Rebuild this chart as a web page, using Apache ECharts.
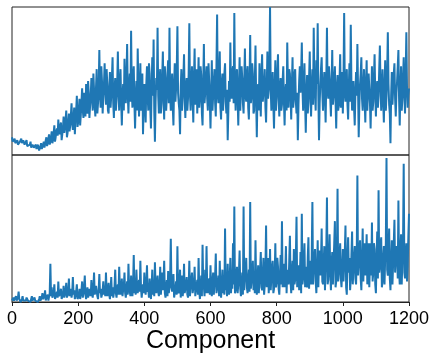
<!DOCTYPE html>
<html>
<head>
<meta charset="utf-8">
<script src="https://cdn.jsdelivr.net/npm/echarts@6/dist/echarts.min.js"></script>
<style>
  html, body { margin: 0; padding: 0; background: #fff; }
  #chart { width: 436px; height: 364px; }
</style>
</head>
<body>
<div id="chart"></div>
<script>
// component index sampled every 2 units, 0..1200
const xStep = 2
const xTicks = [0, 200, 400, 600, 800, 1000, 1200]

// upper panel values (0..100 of panel height)
const topValues = [
  12, 9, 8, 10, 11, 8, 7, 9, 10, 7, 6, 8, 9, 10, 11, 8, 7, 10, 9, 7,
  6, 8, 10, 6, 7, 5, 5, 7, 9, 5, 6, 7, 8, 5, 4, 6, 7, 4, 5, 7,
  6, 3, 4, 6, 8, 4, 5, 7, 9, 5, 7, 10, 12, 6, 8, 11, 14, 7, 9, 12,
  16, 8, 10, 15, 20, 9, 12, 16, 18, 13, 24, 17, 14, 19, 22, 10, 11, 18, 26, 15,
  18, 24, 30, 12, 15, 22, 28, 16, 20, 27, 35, 21, 17, 25, 32, 14, 24, 30, 40, 19,
  22, 31, 38, 20, 27, 36, 45, 30, 25, 42, 36, 26, 48, 34, 28, 50, 42, 25, 33, 40,
  52, 38, 30, 55, 44, 33, 26, 46, 58, 28, 35, 45, 71, 40, 32, 60, 50, 28, 40, 48,
  62, 42, 34, 58, 48, 30, 28, 45, 56, 32, 40, 52, 66, 35, 25, 44, 52, 30, 38, 48,
  70, 42, 30, 50, 58, 36, 20, 40, 48, 30, 65, 44, 35, 52, 75, 40, 28, 46, 55, 36,
  84, 45, 32, 52, 60, 35, 18, 38, 50, 30, 72, 46, 26, 42, 62, 30, 40, 55, 14, 34,
  48, 35, 22, 48, 60, 40, 30, 62, 55, 32, 18, 45, 66, 40, 78, 30, 9, 36, 52, 44,
  86, 40, 28, 50, 58, 28, 35, 52, 70, 38, 24, 60, 50, 30, 40, 55, 64, 35, 86, 42,
  30, 44, 55, 32, 20, 48, 62, 36, 45, 58, 87, 42, 35, 30, 14, 46, 58, 30, 40, 52,
  68, 38, 25, 46, 52, 30, 38, 55, 89, 40, 30, 48, 60, 38, 22, 52, 72, 34, 45, 58,
  28, 45, 66, 32, 38, 60, 54, 28, 20, 48, 75, 35, 42, 52, 60, 38, 30, 62, 50, 36,
  18, 42, 64, 30, 40, 50, 58, 35, 26, 60, 95, 40, 35, 54, 70, 32, 24, 48, 55, 30,
  42, 55, 62, 36, 28, 44, 10, 30, 50, 36, 76, 42, 38, 56, 60, 35, 96, 45, 30, 52,
  58, 38, 20, 45, 66, 30, 44, 60, 52, 35, 28, 50, 72, 40, 36, 55, 60, 32, 24, 48,
  81, 35, 40, 62, 55, 28, 30, 50, 74, 38, 12, 42, 48, 30, 62, 45, 26, 54, 68, 36,
  35, 48, 58, 32, 22, 45, 70, 38, 44, 60, 100, 45, 30, 42, 56, 34, 18, 46, 64, 30,
  40, 55, 68, 38, 26, 45, 52, 30, 34, 50, 60, 36, 20, 42, 48, 30, 76, 48, 32, 58,
  55, 40, 24, 48, 66, 32, 38, 55, 58, 36, 28, 42, 10, 34, 50, 60, 42, 55, 76, 45,
  30, 46, 62, 35, 15, 40, 54, 28, 36, 52, 70, 40, 26, 45, 58, 34, 86, 50, 40, 30,
  64, 48, 89, 40, 10, 35, 48, 58, 66, 42, 30, 46, 56, 38, 22, 50, 86, 44, 38, 60,
  52, 38, 26, 48, 71, 34, 40, 52, 60, 36, 18, 44, 54, 30, 34, 50, 68, 32, 44, 56,
  28, 50, 96, 42, 36, 48, 58, 34, 24, 45, 62, 36, 88, 48, 30, 40, 50, 32, 20, 42,
  56, 40, 75, 45, 12, 34, 48, 55, 66, 38, 30, 46, 58, 36, 22, 48, 64, 30, 42, 55,
  54, 35, 18, 42, 60, 30, 36, 52, 68, 40, 26, 45, 50, 32, 40, 58, 74, 46, 30, 44,
  58, 36, 22, 45, 64, 30, 40, 55, 83, 48, 34, 28, 8, 40, 56, 34, 44, 55, 62, 38,
  26, 42, 50, 60, 71, 38, 20, 44, 60, 30, 38, 52, 66, 40, 28, 55, 83, 45, 32, 40,
  45
]

// lower panel values (0..100 of panel height)
const bottomValues = [
  1, 2, 3, 1, 0, 2, 4, 1, 2, 3, 7, 2, 3, 0, 1, 2, 4, 1, 2, 1,
  0, 1, 3, 2, 1, 0, 2, 1, 0, 2, 4, 1, 1, 2, 3, 1, 0, 1, 2, 0,
  1, 2, 4, 1, 2, 3, 6, 2, 1, 4, 8, 1, 3, 2, 5, 1, 2, 6, 26, 4,
  10, 3, 4, 6, 12, 2, 2, 5, 7, 3, 14, 4, 3, 6, 9, 2, 1, 5, 11, 3,
  5, 8, 13, 3, 2, 7, 16, 4, 6, 9, 3, 6, 17, 5, 8, 2, 4, 7, 12, 2,
  1, 4, 9, 2, 3, 8, 14, 3, 6, 10, 18, 5, 2, 6, 10, 3, 5, 9, 8, 4,
  15, 6, 3, 9, 20, 5, 7, 11, 12, 4, 2, 8, 19, 6, 9, 3, 5, 8, 14, 5,
  8, 4, 20, 7, 4, 9, 13, 5, 2, 8, 17, 4, 10, 3, 6, 11, 22, 6, 3, 9,
  12, 5, 24, 10, 5, 8, 16, 4, 8, 11, 20, 6, 3, 9, 14, 5, 26, 10, 7, 4,
  18, 8, 4, 12, 32, 6, 10, 5, 22, 10, 6, 12, 15, 7, 28, 9, 3, 8, 12, 6,
  20, 9, 5, 12, 25, 7, 9, 3, 16, 8, 2, 10, 22, 5, 11, 4, 27, 10, 6, 13,
  18, 7, 4, 10, 24, 5, 13, 20, 8, 14, 28, 6, 3, 9, 15, 4, 21, 6, 10, 16,
  43, 10, 7, 6, 19, 3, 2, 9, 14, 5, 38, 8, 6, 12, 22, 3, 12, 18, 4, 9,
  26, 6, 9, 12, 17, 5, 3, 10, 28, 4, 11, 15, 20, 6, 5, 12, 24, 4, 8, 11,
  15, 5, 30, 8, 2, 10, 18, 4, 39, 12, 10, 4, 22, 6, 38, 10, 6, 12, 16, 5,
  25, 8, 4, 14, 20, 5, 12, 18, 33, 6, 7, 12, 18, 4, 28, 9, 3, 11, 22, 6,
  10, 5, 50, 8, 14, 4, 26, 10, 5, 15, 30, 6, 18, 9, 40, 12, 65, 6, 8, 16,
  24, 6, 12, 20, 35, 9, 4, 12, 20, 5, 65, 8, 16, 20, 30, 10, 6, 15, 22, 7,
  68, 9, 10, 20, 28, 8, 18, 6, 42, 12, 5, 14, 25, 6, 14, 22, 34, 10, 8, 18,
  30, 5, 12, 22, 52, 10, 20, 30, 6, 15, 36, 8, 16, 24, 28, 6, 9, 18, 40, 10,
  14, 30, 24, 9, 5, 18, 32, 12, 55, 10, 18, 26, 10, 20, 38, 6, 22, 16, 12, 28,
  45, 14, 6, 20, 28, 8, 36, 12, 15, 30, 58, 10, 20, 25, 8, 16, 34, 6, 60, 12,
  16, 28, 40, 10, 24, 15, 10, 30, 44, 9, 28, 20, 12, 32, 68, 12, 22, 30, 36, 14,
  6, 22, 42, 10, 30, 35, 18, 28, 50, 14, 12, 26, 38, 8, 24, 35, 71, 12, 15, 30,
  46, 20, 8, 25, 34, 12, 26, 40, 55, 10, 14, 30, 77, 14, 20, 32, 40, 16, 10, 22,
  36, 14, 24, 34, 52, 10, 5, 30, 44, 20, 30, 8, 16, 32, 48, 12, 22, 30, 38, 16,
  12, 30, 86, 18, 26, 35, 42, 16, 8, 28, 50, 14, 34, 40, 18, 28, 46, 12, 28, 40,
  10, 26, 40, 18, 54, 14, 20, 40, 36, 12, 6, 30, 48, 16, 76, 20, 24, 38, 44, 10,
  14, 30, 38, 12, 30, 40, 98, 22, 18, 36, 50, 16, 8, 28, 42, 12, 26, 40, 56, 20,
  20, 38, 34, 16, 69, 22, 12, 34, 46, 12, 28, 40, 94, 20, 16, 30, 40, 14, 24, 44,
  60
]

const toPairs = (vals) => vals.map((v, i) => [i * xStep, v])

const font = '"Liberation Sans", Arial, sans-serif'
const lineColor = '#1f77b4'

const chart = echarts.init(document.getElementById('chart'), null, { renderer: 'canvas' })

const option = {
  animation: false,
  backgroundColor: '#fff',
  grid: [
    { left: 12, right: 27, top: 7, height: 148, show: true, borderColor: '#222', borderWidth: 1 },
    { left: 12, right: 27, top: 155, height: 147, show: true, borderColor: '#222', borderWidth: 1 }
  ],
  xAxis: [
    {
      gridIndex: 0, type: 'value', min: xTicks[0], max: xTicks[xTicks.length - 1],
      show: false
    },
    {
      gridIndex: 1, type: 'value', min: xTicks[0], max: xTicks[xTicks.length - 1], interval: 200,
      axisLine: { show: true, lineStyle: { color: '#222', width: 1 } },
      axisTick: { show: true, inside: false, length: 4, lineStyle: { color: '#222' } },
      axisLabel: {
        color: '#000', fontSize: 18, fontFamily: font, margin: 8,
        showMaxLabel: true, showMinLabel: true,
        formatter: (v) => String(v)
      },
      splitLine: { show: false },
      name: 'Component',
      nameLocation: 'middle',
      nameGap: 26,
      nameTextStyle: { color: '#000', fontSize: 25, fontFamily: font, verticalAlign: 'top' }
    }
  ],
  yAxis: [
    { gridIndex: 0, type: 'value', min: 0, max: 100, show: false },
    { gridIndex: 1, type: 'value', min: 0, max: 100, show: false }
  ],
  series: [
    {
      type: 'line', xAxisIndex: 0, yAxisIndex: 0,
      data: toPairs(topValues),
      showSymbol: false,
      lineStyle: { color: lineColor, width: 2 },
      clip: true
    },
    {
      type: 'line', xAxisIndex: 1, yAxisIndex: 1,
      data: toPairs(bottomValues),
      showSymbol: false,
      lineStyle: { color: lineColor, width: 2 },
      clip: true
    }
  ]
}

chart.setOption(option)
</script>
</body>
</html>
